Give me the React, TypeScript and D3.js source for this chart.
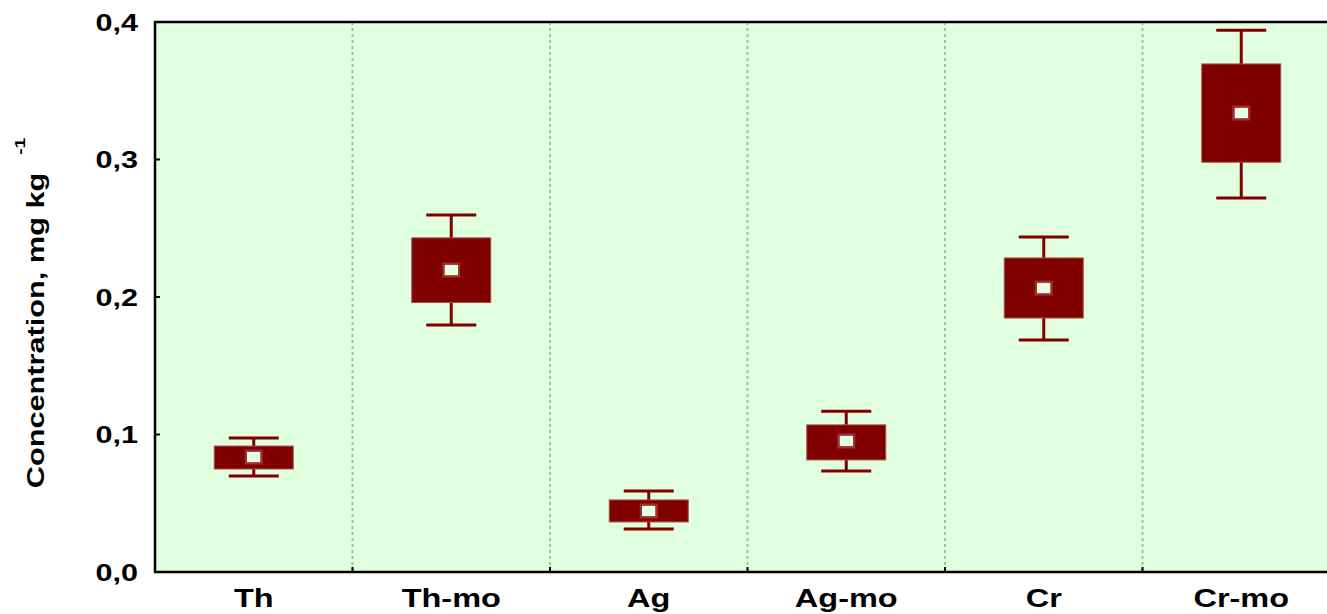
import { useEffect, useRef } from "react";
import * as d3 from "d3";

const categories = ["Th", "Th-mo", "Ag", "Ag-mo", "Cr", "Cr-mo"];
const means = [0.0836, 0.2196, 0.0444, 0.0953, 0.2065, 0.3338];
const boxLow = [0.0749, 0.196, 0.0364, 0.0815, 0.1847, 0.298];
const boxHigh = [0.0916, 0.243, 0.0524, 0.107, 0.2284, 0.3695];
const whiskerLow = [0.0698, 0.1796, 0.0313, 0.0735, 0.1687, 0.272];
const whiskerHigh = [0.0975, 0.2596, 0.0589, 0.117, 0.2436, 0.394];
const yTicks = [0, 0.1, 0.2, 0.3, 0.4];

export default function App() {
  const svgRef = useRef<SVGSVGElement>(null);

  useEffect(() => {
    const width = 1327;
    const height = 614;
    const margin = { top: 22, right: -13, bottom: 42, left: 155 };
    const dark = "#800000";
    const font = "Liberation Sans, Arial, sans-serif";

    const svg = d3.select(svgRef.current);
    svg.selectAll("*").remove();
    svg.attr("width", width).attr("height", height).style("background", "#ffffff");

    const x = d3
      .scaleBand()
      .domain(categories)
      .range([margin.left, width - margin.right])
      .padding(0);

    const y = d3
      .scaleLinear()
      .domain([0, 0.4])
      .range([height - margin.bottom, margin.top]);

    const x0 = margin.left;
    const x1 = width - margin.right;
    const yTop = y(0.4);
    const yBot = y(0);

    svg
      .append("rect")
      .attr("x", x0)
      .attr("y", yTop)
      .attr("width", x1 - x0)
      .attr("height", yBot - yTop)
      .attr("fill", "#dfffdf");

    // dotted separators
    svg
      .selectAll(".sep")
      .data(categories.slice(1))
      .enter()
      .append("line")
      .attr("x1", (d) => x(d)!)
      .attr("x2", (d) => x(d)!)
      .attr("y1", yTop)
      .attr("y2", yBot)
      .attr("stroke", "#b4b4b4")
      .attr("stroke-width", 2)
      .attr("stroke-dasharray", "3,3");

    // frame
    svg
      .append("path")
      .attr("d", `M${x1},${yTop}H${x0}V${yBot}H${x1}`)
      .attr("fill", "none")
      .attr("stroke", "#000")
      .attr("stroke-width", 2.5);

    // y ticks
    const yAxis = svg.append("g");
    yTicks.forEach((t) => {
      yAxis
        .append("line")
        .attr("x1", x0)
        .attr("x2", x0 + 5)
        .attr("y1", y(t))
        .attr("y2", y(t))
        .attr("stroke", "#000")
        .attr("stroke-width", 2);
      yAxis
        .append("text")
        .attr("transform", `translate(138, ${y(t) + 8.5}) scale(1.33, 1)`)
        .attr("text-anchor", "end")
        .style("font-family", font)
        .style("font-weight", "bold")
        .style("font-size", "23px")
        .text(t.toFixed(1).replace(".", ","));
    });

    // x ticks and labels
    categories.slice(1).forEach((c) => {
      svg
        .append("line")
        .attr("x1", x(c)!)
        .attr("x2", x(c)!)
        .attr("y1", yBot)
        .attr("y2", yBot - 5)
        .attr("stroke", "#000")
        .attr("stroke-width", 2);
    });
    svg
      .selectAll(".xlab")
      .data(categories)
      .enter()
      .append("text")
      .attr("transform", (d) => `translate(${x(d)! + x.bandwidth() / 2}, 607) scale(1.3, 1)`)
      .attr("text-anchor", "middle")
      .style("font-family", font)
      .style("font-weight", "bold")
      .style("font-size", "25px")
      .text((d) => d);

    // y label
    const lab = svg
      .append("text")
      .attr("transform", `translate(44, 313) rotate(-90) scale(1.28, 1)`)
      .attr("text-anchor", "middle")
      .style("font-family", font)
      .style("font-weight", "bold")
      .style("font-size", "24px");
    lab.append("tspan").text("Concentration, mg kg");
    lab
      .append("tspan")
      .attr("dy", -19)
      .attr("dx", 14)
      .style("font-size", "15px")
      .text("-1");

    // boxes
    const g = svg.append("g");
    categories.forEach((c, i) => {
      const cx = x(c)! + x.bandwidth() / 2;
      const boxW = 79;
      const capW = 50;
      g.append("line")
        .attr("x1", cx)
        .attr("x2", cx)
        .attr("y1", y(whiskerHigh[i]))
        .attr("y2", y(whiskerLow[i]))
        .attr("stroke", dark)
        .attr("stroke-width", 3);
      [whiskerHigh[i], whiskerLow[i]].forEach((v) => {
        g.append("line")
          .attr("x1", cx - capW / 2)
          .attr("x2", cx + capW / 2)
          .attr("y1", y(v))
          .attr("y2", y(v))
          .attr("stroke", dark)
          .attr("stroke-width", 3);
      });
      g.append("rect")
        .attr("x", cx - boxW / 2)
        .attr("y", y(boxHigh[i]))
        .attr("width", boxW)
        .attr("height", y(boxLow[i]) - y(boxHigh[i]))
        .attr("fill", dark)
        .attr("stroke", "#a85050")
        .attr("stroke-width", 1);
      g.append("rect")
        .attr("x", cx - 9)
        .attr("y", y(means[i]) - 7.5)
        .attr("width", 18)
        .attr("height", 15)
        .attr("fill", "#a03030");
      g.append("rect")
        .attr("x", cx - 7)
        .attr("y", y(means[i]) - 5.5)
        .attr("width", 14)
        .attr("height", 11)
        .attr("fill", "#e6ffe6")
        .attr("stroke", "#800000")
        .attr("stroke-width", 0.5);
    });
  }, []);

  return (
    <div style={{ position: "absolute", left: 0, top: 0 }}>
      <svg ref={svgRef} style={{ display: "block" }}></svg>
    </div>
  );
}
